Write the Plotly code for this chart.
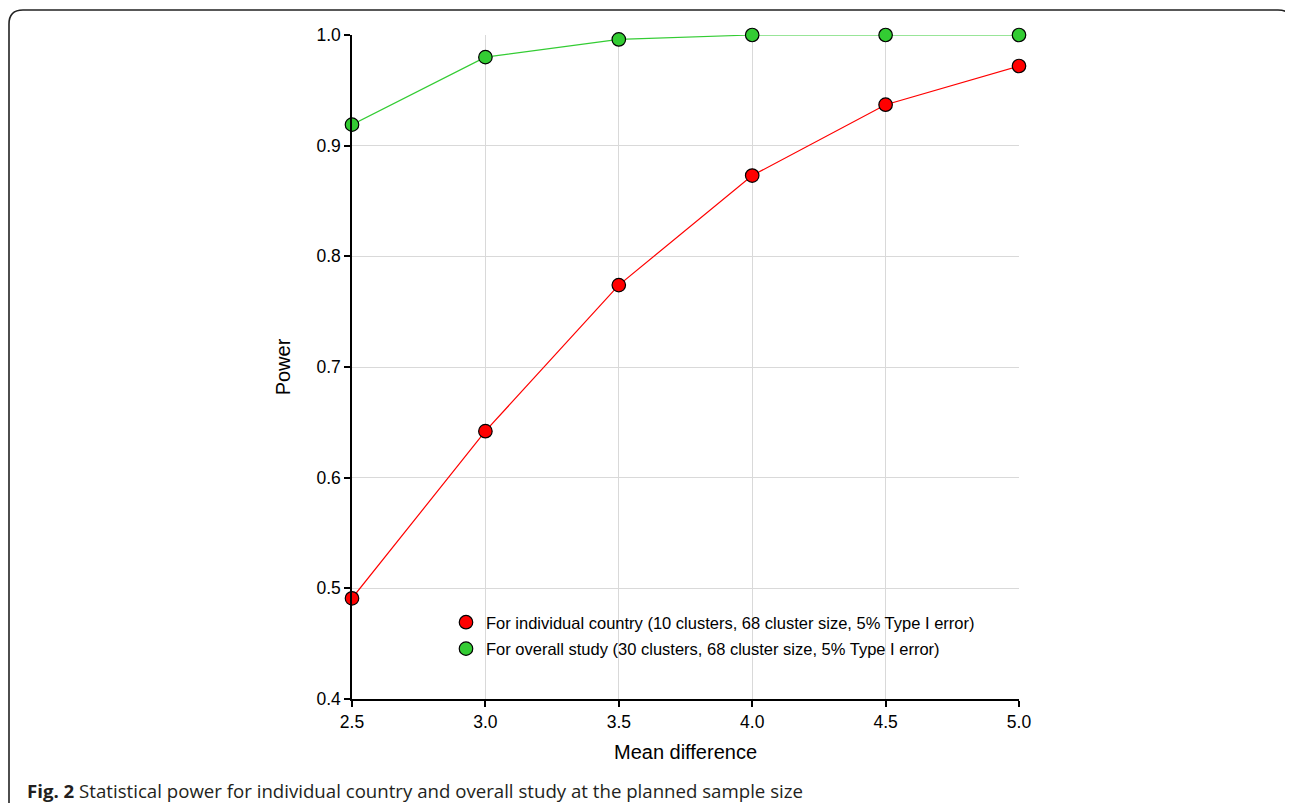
import plotly.graph_objects as go

mean_diff = [2.5, 3.0, 3.5, 4.0, 4.5, 5.0]
power_country = [0.491, 0.642, 0.774, 0.873, 0.937, 0.972]
power_overall = [0.919, 0.980, 0.996, 1.0, 1.0, 1.0]
name_country = "For individual country (10 clusters, 68 cluster size, 5% Type I error)"
name_overall = "For overall study (30 clusters, 68 cluster size, 5% Type I error)"
x_ticks = [2.5, 3.0, 3.5, 4.0, 4.5, 5.0]
y_ticks = [0.4, 0.5, 0.6, 0.7, 0.8, 0.9, 1.0]

RED = "#ff0000"
GREEN = "#33cc33"

OFF = 8  # page offset of the figure inside the browser
W, H = 1293 - OFF, 803 - OFF
L, T = 352 - OFF, 35 - OFF
R = W - (1019 - OFF)
B = H - (699 - OFF)
PW, PH = W - L - R, H - T - B

def px(x):
    return (x - OFF - L) / PW

def py(y):
    return (H - B - (y - OFF)) / PH

fig = go.Figure()
for xs, ys, col in [
    (mean_diff, power_country, RED),
    (mean_diff, power_overall, GREEN),
]:
    fig.add_trace(go.Scatter(x=xs, y=ys, mode="lines", line=dict(color=col, width=1.2),
                             showlegend=False, hoverinfo="skip", cliponaxis=False))
for xs, ys, col, nm, grp in [
    (mean_diff, power_country, RED, name_country, "a"),
    (mean_diff, power_overall, GREEN, name_overall, "b"),
]:
    fig.add_trace(go.Scatter(x=xs, y=ys, mode="markers", name=nm, legendgroup=grp,
                             marker=dict(color=col, size=13.5, line=dict(color="black", width=1.2)),
                             cliponaxis=False))

# rounded frame
x0, x1 = px(9), px(1292)
y0, y1 = py(840), py(10)
r = 14
rx, ry = r / PW, r / PH
path = (f"M {x0},{y0} L {x0},{y1-ry} Q {x0},{y1} {x0+rx},{y1} "
        f"L {x1-rx},{y1} Q {x1},{y1} {x1},{y1-ry} L {x1},{y0}")
fig.add_shape(type="path", path=path, xref="paper", yref="paper",
              line=dict(color="#222222", width=1.6), layer="above")

fig.add_annotation(text="<b>Fig. 2</b> Statistical power for individual country and overall study at the planned sample size",
                   xref="paper", yref="paper", x=px(25), y=py(790), xanchor="left", yanchor="middle",
                   showarrow=False, font=dict(family="Open Sans", size=18.65, color="#231f20"))

fig.update_layout(
    width=W, height=H,
    margin=dict(l=L, r=R, t=T, b=B),
    paper_bgcolor="white", plot_bgcolor="white",
    font=dict(family="Liberation Sans, Arial", color="black"),
    showlegend=True,
    legend=dict(x=px(446), y=py(605), xanchor="left", yanchor="top",
                font=dict(size=16.5), bgcolor="rgba(0,0,0,0)", tracegroupgap=2),
)
fig.update_xaxes(range=[2.5, 5.0], tickvals=x_ticks, ticktext=[f"{v:.1f}" for v in x_ticks],
                 showgrid=True, gridcolor="#d9d9d9", gridwidth=1,
                 showline=True, linecolor="black", linewidth=1.5,
                 ticks="outside", ticklen=6, tickcolor="black", tickwidth=1.5,
                 tickfont=dict(size=17.5), zeroline=False,
                 title=dict(text="Mean difference", font=dict(size=20), standoff=14))
fig.update_yaxes(range=[0.4, 1.0], tickvals=y_ticks, ticktext=[f"{v:.1f}" for v in y_ticks],
                 showgrid=True, gridcolor="#d9d9d9", gridwidth=1,
                 showline=True, linecolor="black", linewidth=1.5,
                 ticks="outside", ticklen=6, tickcolor="black", tickwidth=1.5,
                 tickfont=dict(size=17.5), zeroline=False,
                 title=dict(text="Power", font=dict(size=20), standoff=20))

fig.write_html("out.html")
